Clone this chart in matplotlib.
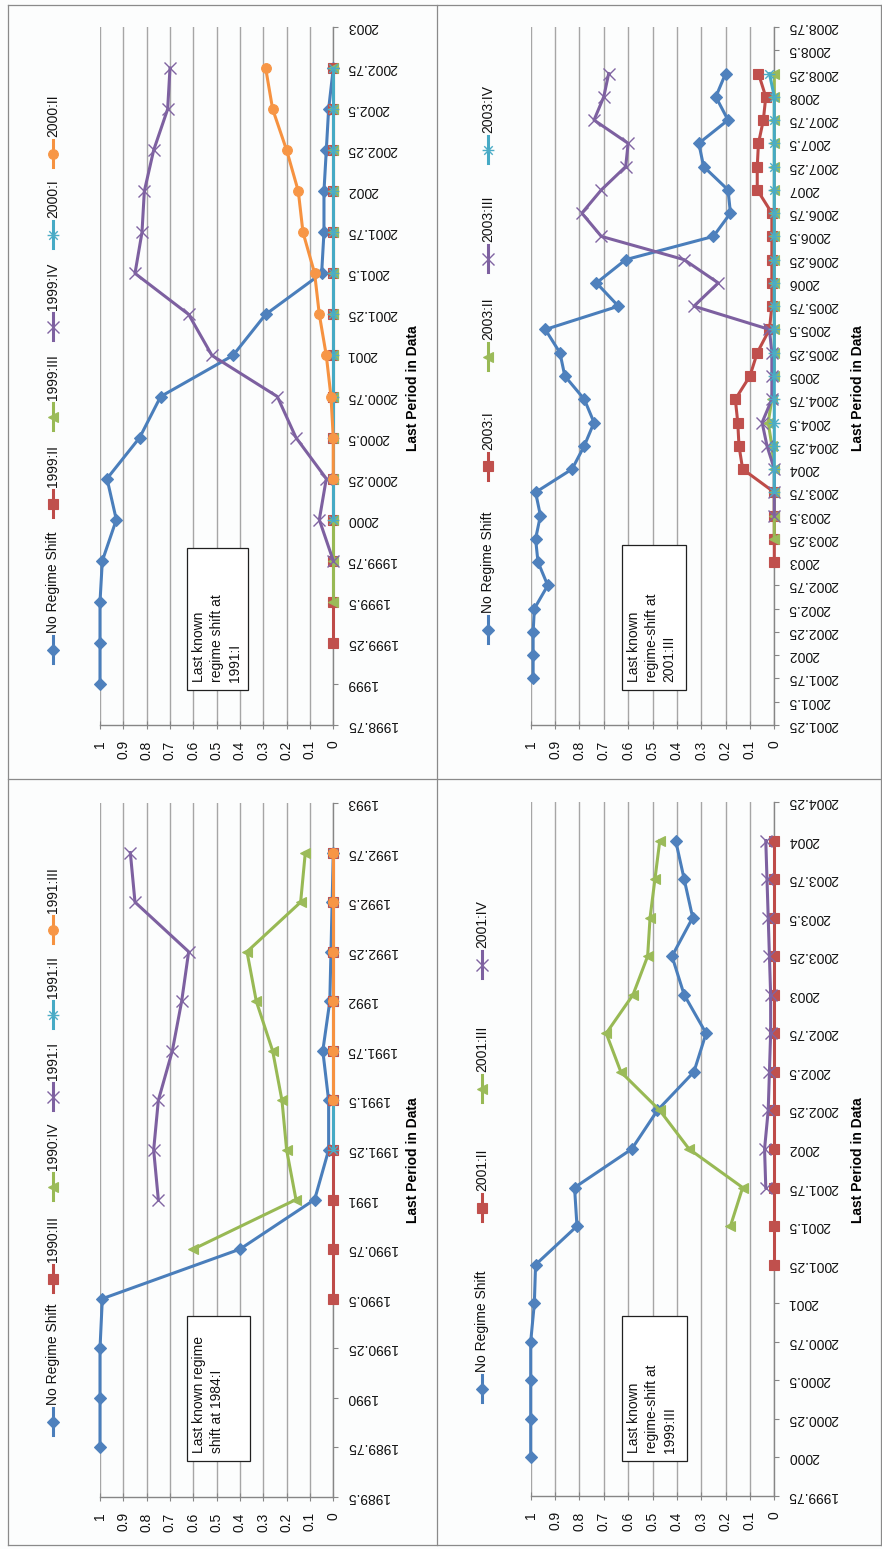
import numpy as np
import matplotlib
matplotlib.use("Agg")
import matplotlib.pyplot as plt
from matplotlib.lines import Line2D
from matplotlib.patches import Rectangle
from matplotlib.path import Path

plt.rcParams['font.family'] = ['Liberation Sans', 'DejaVu Sans']

W, H = 882, 1549
nan = np.nan

# ---------------- data ----------------
# Panel: last known regime shift at 1991:I
tl_periods = [1999.0, 1999.25, 1999.5, 1999.75, 2000.0, 2000.25, 2000.5, 2000.75,
              2001.0, 2001.25, 2001.5, 2001.75, 2002.0, 2002.25, 2002.5, 2002.75]
tl_labels = ["No Regime Shift", "1999:II", "1999:III", "1999:IV", "2000:I", "2000:II"]
tl_no_shift = [1.0, 1.0, 1.0, 0.99, 0.93, 0.97, 0.83, 0.74, 0.43, 0.29, 0.05, 0.04, 0.04, 0.03, 0.02, 0.0]
tl_1999_2 = [nan, 0, 0, 0, 0, 0, 0, 0, 0, 0, 0, 0, 0, 0, 0, 0]
tl_1999_3 = [nan, nan, 0, 0, 0, 0, 0, 0, 0, 0, 0, 0, 0, 0, 0, 0]
tl_1999_4 = [nan, nan, nan, 0.0, 0.06, 0.03, 0.16, 0.24, 0.52, 0.62, 0.85, 0.82, 0.81, 0.77, 0.71, 0.70]
tl_2000_1 = [nan, nan, nan, nan, 0, 0, 0, 0, 0, 0, 0, 0, 0, 0, 0, 0]
tl_2000_2 = [nan, nan, nan, nan, nan, 0.0, 0.0, 0.01, 0.03, 0.06, 0.08, 0.13, 0.15, 0.20, 0.26, 0.29]

# Panel: last known regime shift at 2001:III
tr_periods = [2001.75, 2002.0, 2002.25, 2002.5, 2002.75, 2003.0, 2003.25, 2003.5, 2003.75,
              2004.0, 2004.25, 2004.5, 2004.75, 2005.0, 2005.25, 2005.5, 2005.75, 2006.0,
              2006.25, 2006.5, 2006.75, 2007.0, 2007.25, 2007.5, 2007.75, 2008.0, 2008.25]
tr_labels = ["No Regime Shift", "2003:I", "2003:II", "2003:III", "2003:IV"]
tr_no_shift = [0.99, 0.99, 0.99, 0.985, 0.93, 0.97, 0.98, 0.96, 0.98, 0.83, 0.78, 0.74, 0.78,
               0.86, 0.88, 0.94, 0.64, 0.73, 0.61, 0.25, 0.18, 0.19, 0.29, 0.31, 0.19, 0.24, 0.20]
tr_2003_1 = [nan, nan, nan, nan, nan, 0.0, 0.0, 0.0, 0.0, 0.13, 0.145, 0.15, 0.16, 0.10, 0.07,
             0.02, 0.01, 0.01, 0.01, 0.01, 0.01, 0.07, 0.07, 0.065, 0.045, 0.035, 0.065]
tr_2003_2 = [nan, nan, nan, nan, nan, nan, 0.0, 0.0, 0.0, 0.0, 0.01, 0.025, 0.01, 0.0, 0.0,
             0.0, 0.0, 0.0, 0.0, 0.0, 0.0, 0.0, 0.0, 0.0, 0.0, 0.0, 0.0]
tr_2003_3 = [nan, nan, nan, nan, nan, nan, nan, 0.0, 0.0, 0.0, 0.03, 0.05, 0.01, 0.01, 0.01,
             0.02, 0.33, 0.23, 0.37, 0.71, 0.79, 0.71, 0.61, 0.60, 0.74, 0.70, 0.68]
tr_2003_4 = [nan, nan, nan, nan, nan, nan, nan, nan, 0.0, 0.0, 0.0, 0.0, 0.0, 0.0, 0.0,
             0.0, 0.0, 0.0, 0.0, 0.0, 0.0, 0.0, 0.0, 0.0, 0.0, 0.0, 0.02]

# Panel: last known regime shift at 1984:I
bl_periods = [1989.75, 1990.0, 1990.25, 1990.5, 1990.75, 1991.0, 1991.25,
              1991.5, 1991.75, 1992.0, 1992.25, 1992.5, 1992.75]
bl_labels = ["No Regime Shift", "1990:III", "1990:IV", "1991:I", "1991:II", "1991:III"]
bl_no_shift = [1.0, 1.0, 1.0, 0.99, 0.40, 0.08, 0.02, 0.02, 0.045, 0.015, 0.01, 0.005, 0.0]
bl_1990_3 = [nan, nan, nan, 0, 0, 0, 0, 0, 0, 0, 0, 0, 0]
bl_1990_4 = [nan, nan, nan, nan, 0.60, 0.16, 0.20, 0.22, 0.26, 0.33, 0.37, 0.14, 0.12]
bl_1991_1 = [nan, nan, nan, nan, nan, 0.75, 0.77, 0.75, 0.69, 0.65, 0.62, 0.85, 0.87]
bl_1991_2 = [nan, nan, nan, nan, nan, nan, 0, 0, 0, 0, 0, 0, 0]
bl_1991_3 = [nan, nan, nan, nan, nan, nan, nan, 0, 0, 0, 0, 0, 0]

# Panel: last known regime shift at 1999:III
br_periods = [2000.0, 2000.25, 2000.5, 2000.75, 2001.0, 2001.25, 2001.5, 2001.75, 2002.0,
              2002.25, 2002.5, 2002.75, 2003.0, 2003.25, 2003.5, 2003.75, 2004.0]
br_labels = ["No Regime Shift", "2001:II", "2001:III", "2001:IV"]
br_no_shift = [1.0, 1.0, 1.0, 1.0, 0.985, 0.98, 0.81, 0.82, 0.585, 0.48, 0.33, 0.28,
               0.37, 0.42, 0.335, 0.37, 0.405]
br_2001_2 = [nan, nan, nan, nan, nan, 0, 0, 0, 0, 0, 0, 0, 0, 0, 0, 0, 0]
br_2001_3 = [nan, nan, nan, nan, nan, nan, 0.18, 0.13, 0.35, 0.47, 0.63, 0.69, 0.58,
             0.52, 0.51, 0.49, 0.47]
br_2001_4 = [nan, nan, nan, nan, nan, nan, nan, 0.035, 0.04, 0.025, 0.02, 0.015, 0.015,
             0.02, 0.025, 0.03, 0.035]

# ---------------- styles ----------------
STAR = Path([(-1, 0), (1, 0), (-0.72, -0.72), (0.72, 0.72), (-0.72, 0.72), (0.72, -0.72)],
            [Path.MOVETO, Path.LINETO, Path.MOVETO, Path.LINETO, Path.MOVETO, Path.LINETO])

BLUE = dict(color='#4A7EBB', marker='D', ms=6, mfc='#4F81BD', mec='#4F81BD', mew=0.8)
RED = dict(color='#BE4B48', marker='s', ms=7, mfc='#C0504D', mec='#C0504D', mew=0.8)
GREEN = dict(color='#98B954', marker='<', ms=6.5, mfc='#9BBB59', mec='#9BBB59', mew=0.8)
PURPLE = dict(color='#7D60A0', marker='x', ms=8, mfc='none', mec='#8064A2', mew=1.0)
CYAN = dict(color='#46AAC5', marker=STAR, ms=8.5, mfc='none', mec='#4BACC6', mew=1.0)
ORANGE = dict(color='#F69240', marker='o', ms=7, mfc='#F79646', mec='#F79646', mew=0.8)

GRID = '#a6a6a6'
AXIS = '#868686'
TEXT = '#111111'
FS = 10

fig = plt.figure(figsize=(W / 100, H / 100), dpi=100)
fig.patch.set_facecolor('#fcfdfd')


def fx(x):
    return x / W


def fy(y):
    return 1 - y / H


def panel(rect, tlim, periods, series, styles, labels, leg_x, leg_bottoms,
          box, box_text, title_x, title_top):
    x0, x1, y0, y1 = rect
    ax = fig.add_axes([fx(x0), fy(y1), (x1 - x0) / W, (y1 - y0) / H])
    ax.set_facecolor('none')
    ax.set_xlim(1, 0)
    ax.set_ylim(*tlim)

    for vals, st in zip(series, styles):
        ax.plot(vals, periods, lw=2.2, clip_on=False, zorder=3,
                solid_joinstyle='round', **st)

    ax.set_xticks(np.round(np.arange(0, 1.001, 0.1), 1))
    ax.set_xticklabels([f"{v:g}" for v in np.round(np.arange(0, 1.001, 0.1), 1)])
    ticks_t = np.arange(tlim[0], tlim[1] + 0.001, 0.25)
    ax.set_yticks(ticks_t)
    ax.set_yticklabels([f"{t:g}" for t in ticks_t])

    ax.grid(axis='x', color=GRID, lw=1.0, zorder=0)
    ax.set_axisbelow(True)
    for side in ('left', 'top'):
        ax.spines[side].set_visible(False)
    for side in ('right', 'bottom'):
        ax.spines[side].set_color(AXIS)
        ax.spines[side].set_linewidth(1.0)

    ax.yaxis.tick_right()
    ax.tick_params(axis='y', which='both', left=False, right=True, direction='out',
                   length=3.6, width=0.8, color=AXIS, pad=6, labelsize=FS,
                   labelcolor=TEXT)
    ax.tick_params(axis='x', direction='inout', length=6, width=0.8, color=AXIS,
                   pad=8, labelsize=FS, labelcolor=TEXT)
    for lbl in ax.get_yticklabels():
        lbl.set_rotation(180)
        lbl.set_ha('left')
        lbl.set_va('center')
    for lbl in ax.get_xticklabels():
        lbl.set_rotation(90)
        lbl.set_ha('center')
        lbl.set_va('top')

    # axis title
    fig.text(fx(title_x), fy(title_top), "Last Period in Data", rotation=90,
             ha='center', va='top', fontsize=FS, fontweight='bold', color='#000000')

    # legend, entries stacked upward
    seg = 27
    for lab, st, yb in zip(labels, styles, leg_bottoms):
        fig.add_artist(Line2D([fx(leg_x), fx(leg_x)], [fy(yb), fy(yb - seg)],
                              color=st['color'], lw=2.2, transform=fig.transFigure))
        mk = {k: v for k, v in st.items() if k != 'color'}
        fig.add_artist(Line2D([fx(leg_x)], [fy(yb - seg / 2)], ls='none',
                              transform=fig.transFigure, **mk))
        fig.text(fx(leg_x), fy(yb - seg - 3), lab, rotation=90, ha='center',
                 va='bottom', fontsize=FS, color=TEXT)

    # annotation box
    bx0, bx1, by0, by1 = box
    fig.add_artist(Rectangle((fx(bx0), fy(by1)), (bx1 - bx0) / W, (by1 - by0) / H,
                             transform=fig.transFigure, facecolor='white',
                             edgecolor='#202020', lw=0.9, zorder=4))
    t = fig.text(fx(bx0 + 5), fy(by1 - 8), box_text, rotation=90, ha='left',
                 va='bottom', multialignment='left', linespacing=1.35,
                 fontsize=FS, color=TEXT)
    t.set_zorder(5)
    return ax


panel((100, 333.3, 27, 725), (1998.75, 2003.0), tl_periods,
      [tl_no_shift, tl_1999_2, tl_1999_3, tl_1999_4, tl_2000_1, tl_2000_2],
      [BLUE, RED, GREEN, PURPLE, CYAN, ORANGE], tl_labels,
      53, [663, 517, 430, 340, 248, 167],
      (187, 248, 548, 690), "Last known\nregime shift at\n1991:I", 413, 325)

panel((530.7, 774.3, 27, 725), (2001.25, 2008.75), tr_periods,
      [tr_no_shift, tr_2003_1, tr_2003_2, tr_2003_3, tr_2003_4],
      [BLUE, RED, GREEN, PURPLE, CYAN], tr_labels,
      488, [643, 480, 370, 272, 163],
      (622, 686, 545, 690), "Last known\nregime-shift at\n2001:III", 858, 325)

panel((100, 333.3, 803, 1497), (1989.5, 1993.0), bl_periods,
      [bl_no_shift, bl_1990_3, bl_1990_4, bl_1991_1, bl_1991_2, bl_1991_3],
      [BLUE, RED, GREEN, PURPLE, CYAN, ORANGE], bl_labels,
      53, [1435, 1292, 1200, 1110, 1028, 943],
      (187, 250, 1316, 1461), "Last known regime\nshift at 1984:I", 413, 1097)

panel((530.7, 774.3, 802, 1496), (1999.75, 2004.25), br_periods,
      [br_no_shift, br_2001_2, br_2001_3, br_2001_4],
      [BLUE, RED, GREEN, PURPLE], br_labels,
      482, [1402, 1221, 1102, 978],
      (622, 687, 1316, 1461), "Last known\nregime-shift at\n1999:III", 858, 1097)

# panel frames
FRAME = '#8a8a8a'
for x in (8, 437, 881):
    fig.add_artist(Line2D([fx(x), fx(x)], [fy(5), fy(1545)], color=FRAME, lw=0.9,
                          transform=fig.transFigure))
for y in (5, 779, 1545):
    fig.add_artist(Line2D([fx(8), fx(881)], [fy(y), fy(y)], color=FRAME, lw=0.9,
                          transform=fig.transFigure))

fig.savefig("out.png", dpi=100, facecolor=fig.get_facecolor())
